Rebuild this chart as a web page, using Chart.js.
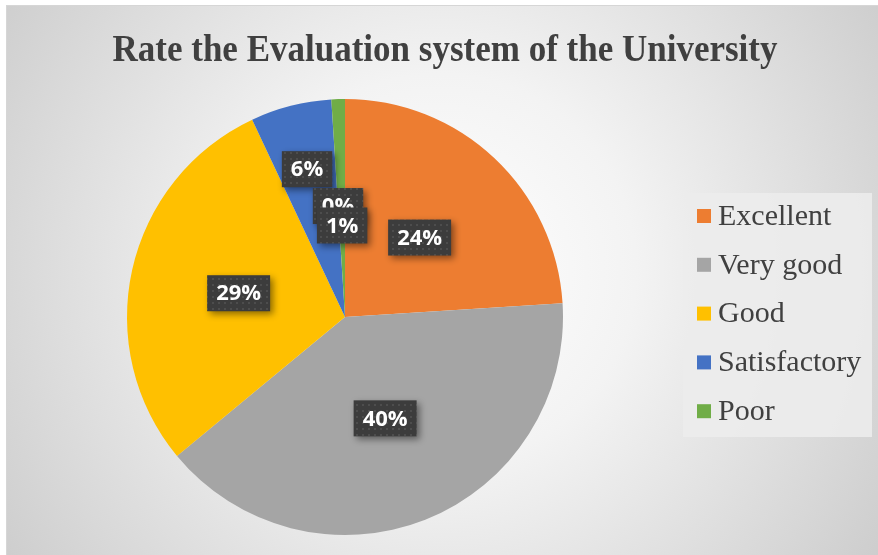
<!DOCTYPE html>
<html>
<head>
<meta charset="utf-8">
<script src="https://cdn.jsdelivr.net/npm/chart.js@4/dist/chart.umd.min.js"></script>
<style>
  html, body { margin: 0; padding: 0; background: #fff; }
  #wrap { width: 878px; height: 555px; }
</style>
</head>
<body>
<div id="wrap"><canvas id="chart" width="878" height="555"></canvas></div>
<script>
// --- Survey data ---
const chartTitle = 'Rate the Evaluation system of the University';
const categories = ['Excellent', 'Very good', 'Good', 'Satisfactory', '', 'Poor'];
const shares = [24, 40, 29, 6, 0, 1];
const sliceColors = ['#ED7D31', '#A5A5A5', '#FFC000', '#4472C4', '#8C8C8C', '#70AD47'];
// how far out along the slice each value box sits (fraction of radius)
const labelReach = [0.5, 0.5, 0.5, 0.7, 0.51, 0.42];

// --- Plot background, title and legend ---
const frame = {
    id: 'frame',
    beforeDraw(chart) {
        const ctx = chart.ctx;
        const w = chart.width, h = chart.height;
        ctx.save();
        ctx.fillStyle = '#ffffff';
        ctx.fillRect(0, 0, w, h);
        const g = ctx.createRadialGradient(440, 270, 0, 440, 270, 560);
        g.addColorStop(0, '#ffffff');
        g.addColorStop(0.35, '#f3f3f3');
        g.addColorStop(1, '#c9c9c9');
        ctx.fillStyle = g;
        ctx.fillRect(6, 5, w - 6, h - 5);
        ctx.strokeStyle = '#d6d6d6';
        ctx.lineWidth = 1;
        ctx.beginPath();
        ctx.moveTo(6, 5.5); ctx.lineTo(w, 5.5);
        ctx.moveTo(6.5, 5); ctx.lineTo(6.5, h);
        ctx.stroke();

        // title, a little narrower than the plain face
        ctx.font = 'bold 38px "Liberation Serif"';
        ctx.fillStyle = '#404040';
        ctx.textBaseline = 'alphabetic';
        ctx.textAlign = 'center';
        const tw = ctx.measureText(chartTitle).width;
        const sx = Math.min(1, 665 / tw);
        ctx.translate(445, 61);
        ctx.scale(sx, 1);
        ctx.fillText(chartTitle, 0, 0);
        ctx.restore();
    },
    afterDraw(chart) {
        const ctx = chart.ctx;
        ctx.save();
        ctx.fillStyle = 'rgba(236,236,236,0.9)';
        ctx.fillRect(683, 193, 189, 244);
        ctx.font = '30px "Liberation Serif"';
        ctx.textBaseline = 'middle';
        ctx.textAlign = 'left';
        let y = 216;
        categories.forEach((name, i) => {
            if (!name) return;
            ctx.fillStyle = sliceColors[i];
            ctx.fillRect(697, y - 7, 14, 14);
            ctx.fillStyle = '#404040';
            ctx.fillText(name, 718, y + 1);
            y += 48.8;
        });
        ctx.restore();
    }
};

// --- Dark dotted value boxes ---
function dotPattern(ctx) {
    const c = document.createElement('canvas');
    c.width = 6; c.height = 6;
    const p = c.getContext('2d');
    p.fillStyle = '#3c3c3c';
    p.fillRect(0, 0, 6, 6);
    p.fillStyle = '#4d4d4d';
    p.fillRect(2, 2, 2, 2);
    return ctx.createPattern(c, 'repeat');
}

const valueBoxes = {
    id: 'valueBoxes',
    afterDatasetsDraw(chart) {
        const ctx = chart.ctx;
        const meta = chart.getDatasetMeta(0);
        const pattern = dotPattern(ctx);
        ctx.save();
        ctx.font = 'bold 22px "Open Sans"';
        ctx.textAlign = 'center';
        ctx.textBaseline = 'middle';
        meta.data.forEach((arc, i) => {
            const { x, y, startAngle, endAngle, outerRadius } = arc.getProps(['x', 'y', 'startAngle', 'endAngle', 'outerRadius'], true);
            const mid = (startAngle + endAngle) / 2;
            const r = outerRadius * labelReach[i];
            const cx = x + Math.cos(mid) * r;
            const cy = y + Math.sin(mid) * r;
            const text = shares[i] + '%';
            const bw = ctx.measureText(text).width + 18;
            const bh = 36;
            ctx.save();
            ctx.shadowColor = 'rgba(0,0,0,0.45)';
            ctx.shadowBlur = 7;
            ctx.shadowOffsetX = 3;
            ctx.shadowOffsetY = 3;
            ctx.fillStyle = pattern;
            ctx.fillRect(cx - bw / 2, cy - bh / 2, bw, bh);
            ctx.restore();
            ctx.fillStyle = '#ffffff';
            ctx.fillText(text, cx, cy + 1);
        });
        ctx.restore();
    }
};

new Chart(document.getElementById('chart'), {
    type: 'pie',
    data: {
        labels: categories,
        datasets: [{
            data: shares,
            backgroundColor: sliceColors,
            borderWidth: 0
        }]
    },
    options: {
        responsive: false,
        animation: false,
        layout: { padding: { left: 127, right: 315, top: 99, bottom: 20 } },
        plugins: {
            legend: { display: false },
            title: { display: false },
            tooltip: { enabled: false }
        }
    },
    plugins: [frame, valueBoxes]
});
</script>
</body>
</html>
